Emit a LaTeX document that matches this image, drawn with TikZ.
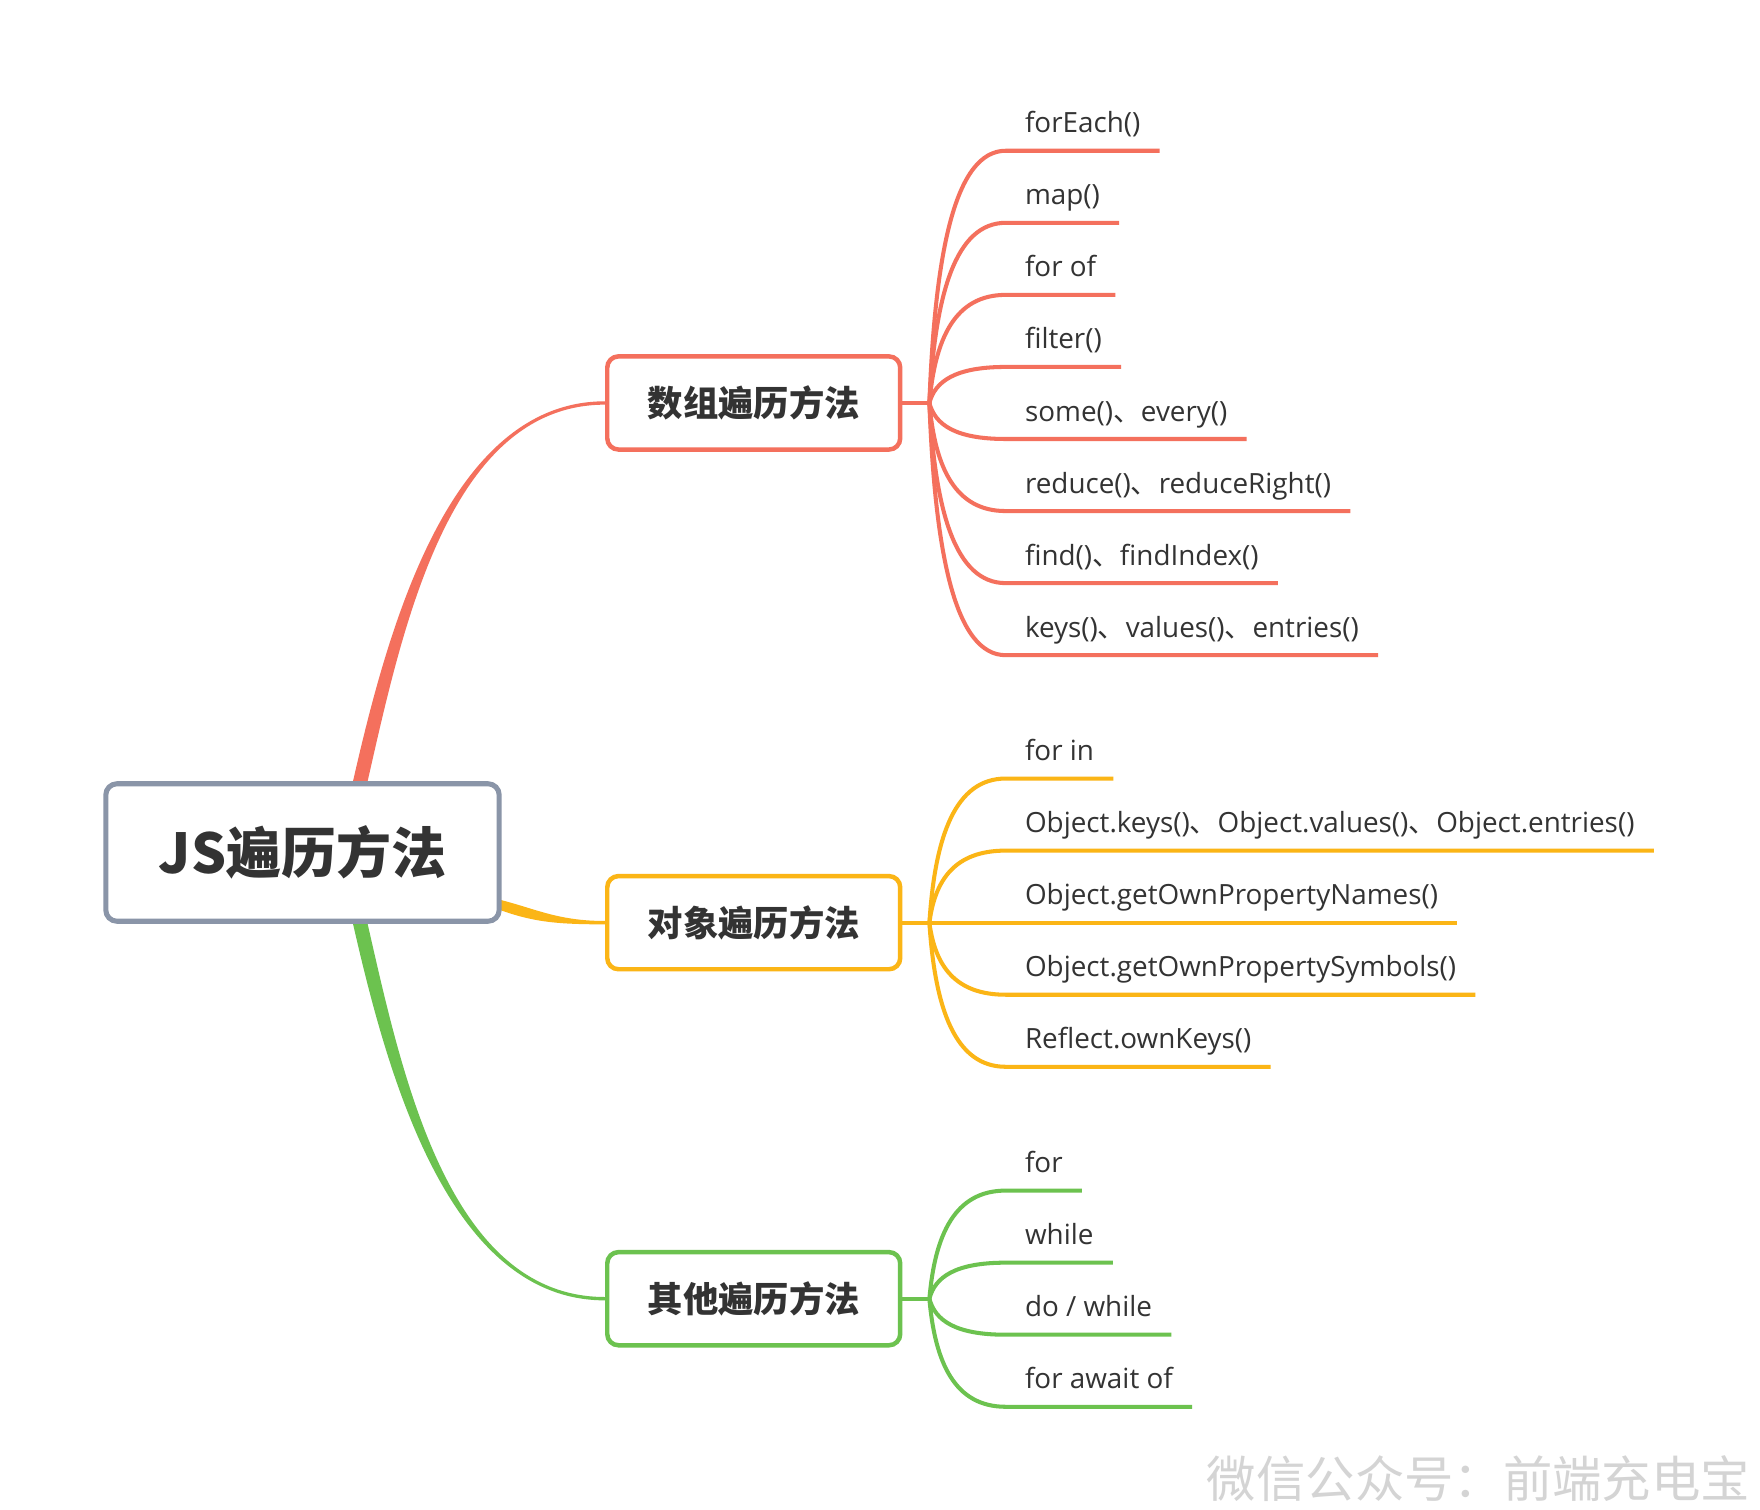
\documentclass[tikz,border=0pt]{standalone}
\usepackage{fontspec}
\setmainfont{Open Sans}
\newfontfamily\cjk{Noto Sans CJK SC}
\usetikzlibrary{calc,positioning}

\definecolor{rootgray}{HTML}{8A95A8}
\definecolor{lred}{HTML}{F4705D}
\definecolor{lorange}{HTML}{FBB516}
\definecolor{lgreen}{HTML}{6CC24F}
\definecolor{txt}{HTML}{333333}
\definecolor{mark}{HTML}{D4D4D4}

\pgfdeclarelayer{bg}
\pgfsetlayers{bg,main}

\newcommand\dun{{\cjk 、}}

\tikzset{
    rootbox/.style={draw=rootgray, line width=4.5, rounded corners=10, fill=white,
        minimum width=350.5, minimum height=122.5, text=txt,
        font=\cjk\bfseries\fontsize{49}{49}\selectfont},
    branchbox/.style={draw=#1, line width=4, rounded corners=10, fill=white,
        minimum width=261, minimum height=83, text=txt,
        font=\cjk\bfseries\fontsize{31.5}{31.5}\selectfont},
    leafnode/.style={inner xsep=17, inner ysep=0, text=txt, anchor=base west,
        font=\fontsize{24.8}{24.8}\selectfont},
    twig/.style={draw=#1, line width=3.6},
}

\begin{document}
\begin{tikzpicture}[x=1pt, y=-1pt]
    \useasboundingbox (0,0) rectangle (1568,1345);

    % topic and groups
    \node[rootbox] (root) at (269.5,759.5) {JS遍历方法};
    \node[branchbox=lred] (arr) at (671.5,359) {数组遍历方法};
    \node[branchbox=lorange] (obj) at (671.5,822) {对象遍历方法};
    \node[branchbox=lgreen] (oth) at (671.5,1157) {其他遍历方法};

    % tapered links from the topic
    \begin{pgfonlayer}{bg}
        \fill[white] (0,0) rectangle (1568,1345);
        \fill[lred] ($(root.north)+(45,0)$) .. controls +(31,-136) and +(-139,0) .. ($(arr.west)+(0,-1.5)$)
            -- ($(arr.west)+(0,1.5)$) .. controls +(-139,0) and +(31,-136) .. ($(root.north)+(58,0)$) -- cycle;
        \fill[lorange] ($(root.east)+(-2,42)$) .. controls +(32,8) and +(-42,0) .. ($(obj.west)+(0,-1.5)$)
            -- ($(obj.west)+(0,1.5)$) .. controls +(-42,0) and +(30,11) .. ($(root.east)+(-2,51)$) -- cycle;
        \fill[lgreen] ($(root.south)+(45,0)$) .. controls +(31,136) and +(-139,0) .. ($(oth.west)+(0,1.5)$)
            -- ($(oth.west)+(0,-1.5)$) .. controls +(-139,0) and +(31,136) .. ($(root.south)+(58,0)$) -- cycle;
    \end{pgfonlayer}

    % forks
    \coordinate (fa) at ($(arr.east)+(24,0)$);
    \coordinate (fb) at ($(obj.east)+(24,0)$);
    \coordinate (fc) at ($(oth.east)+(24,0)$);
    \draw[twig=lred] (arr.east) -- (fa);
    \draw[twig=lorange] (obj.east) -- (fb);
    \draw[twig=lgreen] (oth.east) -- (fc);

    % array methods
    \foreach \lbl [count=\i] in {forEach(), map(), for of, filter(), some()\dun every(),
        reduce()\dun reduceRight(), find()\dun findIndex(), keys()\dun values()\dun entries()}
    {
        \pgfmathsetmacro\dy{(\i-4.5)*64.2}
        \node[leafnode] (a\i) at ($(fa)+(68,\dy-16)$) {\lbl};
        \draw[twig=lred] (fa) .. controls +(5,{0.6*(\dy)}) and +(-45,0) .. ($(a\i.base west)+(0,16)$)
            -- ($(a\i.base east)+(0,16)$);
    }

    % object methods
    \foreach \lbl [count=\i] in {for in, Object.keys()\dun Object.values()\dun Object.entries(),
        Object.getOwnPropertyNames(), Object.getOwnPropertySymbols(), Reflect.ownKeys()}
    {
        \pgfmathsetmacro\dy{(\i-3)*64.2}
        \node[leafnode] (b\i) at ($(fb)+(68,\dy-16)$) {\lbl};
        \draw[twig=lorange] (fb) .. controls +(5,{0.6*(\dy)}) and +(-45,0) .. ($(b\i.base west)+(0,16)$)
            -- ($(b\i.base east)+(0,16)$);
    }

    % other loops
    \foreach \lbl [count=\i] in {for, while, {do / while}, for await of}
    {
        \pgfmathsetmacro\dy{(\i-2.5)*64.2}
        \node[leafnode] (c\i) at ($(fc)+(68,\dy-16)$) {\lbl};
        \draw[twig=lgreen] (fc) .. controls +(5,{0.6*(\dy)}) and +(-45,0) .. ($(c\i.base west)+(0,16)$)
            -- ($(c\i.base east)+(0,16)$);
    }

    \node[anchor=west, inner sep=0, text=mark, font=\cjk\fontsize{44}{44}\selectfont] (wm) at (1075,1317)
        {微信公众号：前端充电宝};
\end{tikzpicture}
\end{document}
